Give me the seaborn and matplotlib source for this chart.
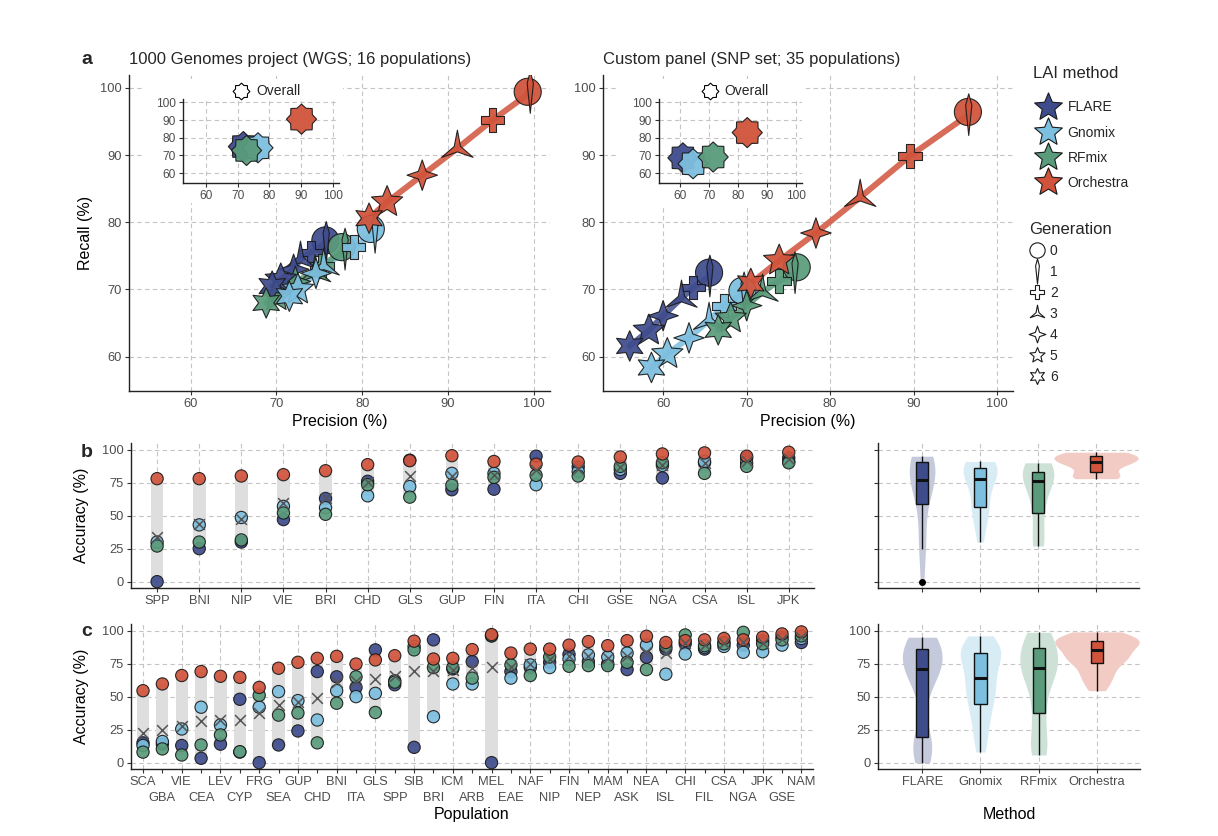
import numpy as np
import pandas as pd
import matplotlib
matplotlib.use("Agg")
import matplotlib.pyplot as plt
import matplotlib.colors as mcolors
import seaborn as sns
from matplotlib.path import Path
from matplotlib.lines import Line2D

# ---------------- data ----------------
methods = ["FLARE", "Gnomix", "RFmix", "Orchestra"]
colors = ["#3F4C8C", "#7DBFDF", "#5A9B7B", "#D1533B"]
generations = [0, 1, 2, 3, 4, 5, 6]

# Panel a, left: 1000 Genomes (precision, recall per generation)
wgs_flare_p = [75.7, 75.8, 74.0, 72.8, 72.0, 70.5, 69.5]
wgs_flare_r = [77.3, 77.0, 75.5, 74.5, 73.0, 71.5, 70.5]
wgs_gnomix_p = [81.0, 81.5, 79.0, 75.5, 74.6, 72.5, 71.5]
wgs_gnomix_r = [79.0, 78.5, 76.3, 73.5, 72.4, 70.0, 69.0]
wgs_rfmix_p = [77.6, 78.0, 75.3, 74.5, 72.2, 70.0, 68.8]
wgs_rfmix_r = [76.3, 76.0, 73.5, 72.5, 71.2, 69.0, 68.0]
wgs_orch_p = [99.3, 99.6, 95.2, 91.1, 87.0, 82.9, 80.8]
wgs_orch_r = [99.4, 99.3, 95.2, 91.0, 87.0, 83.0, 80.6]
wgs_overall_p = [71.8, 76.4, 72.8, 90.1]
wgs_overall_r = [75.0, 74.3, 72.8, 90.5]

# Panel a, right: custom panel
snp_flare_p = [65.5, 65.6, 63.6, 62.2, 60.0, 58.3, 56.0]
snp_flare_r = [72.5, 72.0, 70.3, 68.7, 66.1, 63.9, 61.6]
snp_gnomix_p = [69.5, 69.7, 67.3, 65.5, 63.1, 60.5, 58.6]
snp_gnomix_r = [69.8, 69.5, 67.6, 65.4, 62.8, 60.4, 58.4]
snp_rfmix_p = [76.0, 75.8, 73.9, 71.9, 70.0, 68.1, 66.6]
snp_rfmix_r = [73.3, 72.5, 71.3, 69.6, 67.6, 65.7, 64.0]
snp_orch_p = [96.5, 96.6, 89.6, 83.6, 78.3, 73.9, 70.5]
snp_orch_r = [96.4, 96.0, 89.9, 83.7, 78.4, 74.3, 70.9]
snp_overall_p = [61.0, 64.5, 71.4, 83.1]
snp_overall_r = [68.6, 65.3, 69.1, 82.9]

# Panel b: 16 populations
b_pops = ["SPP", "BNI", "NIP", "VIE", "BRI", "CHD", "GLS", "GUP",
          "FIN", "ITA", "CHI", "GSE", "NGA", "CSA", "ISL", "JPK"]
b_flare = [0, 25, 30, 47, 63, 76, 92, 69.6, 70, 95, 87, 82, 78.5, 90, 93.7, 93.7]
b_gnomix = [30, 43, 48.6, 57, 56, 65, 72, 82, 82, 73.4, 83.5, 85, 88, 91, 90, 91]
b_rfmix = [27, 30, 31.6, 52, 51, 73.4, 64, 73, 79, 80.5, 80, 87.3, 90, 82, 87.3, 90]
b_orch = [78, 78, 80, 81, 84, 88.6, 91.6, 95.4, 91, 89, 90.6, 94.4, 96.7, 97.5, 95, 98]

# Panel c: 35 populations
c_pops = ["SCA", "GBA", "VIE", "CEA", "LEV", "CYP", "FRG", "SEA", "GUP", "CHD",
          "BNI", "ITA", "GLS", "SPP", "SIB", "BRI", "ICM", "ARB", "MEL", "EAE",
          "NAF", "NIP", "FIN", "NEP", "MAM", "ASK", "NEA", "ISL", "CHI", "FIL",
          "CSA", "NGA", "JPK", "GSE", "NAM"]
c_flare = [15, 14, 13, 3.3, 14, 48, 0, 13.4, 24, 69, 65, 57, 85.4, 59, 11.6, 93, 71, 76.5,
           0, 69, 72, 76, 82, 76.5, 75, 70.5, 79.8, 86, 90, 86, 91, 89, 92.4, 95, 91]
c_gnomix = [13, 16, 25.5, 42, 28.5, 8, 42, 53.8, 47, 32.3, 54.5, 50, 52.5, 62, 88, 34.8,
            59.6, 59.6, 96, 64, 74, 72, 78.5, 81.6, 80, 83, 89, 67, 82.3, 87.4, 88, 83.6,
            84, 89, 94]
c_rfmix = [8, 10.4, 5.8, 13.4, 21, 8.3, 51, 36, 37.6, 15, 45, 65, 38, 61, 85.4, 72, 72,
           64, 96, 74, 66, 80, 73, 73.5, 73.5, 76, 70.5, 88, 96.7, 88.6, 90, 98.7, 90, 93, 96]
c_orch = [54.5, 59.6, 66, 69, 65.4, 64.6, 57, 71.5, 76, 79, 80.5, 74.7, 77.8, 81, 92, 78.5,
          79, 85.6, 97, 83, 86, 86, 89, 91.7, 88.6, 92.4, 95.7, 91, 92.4, 93, 94, 93, 95,
          97.5, 99]

# ---------------- styling ----------------
sns.set_theme(style="white")
plt.rcParams["font.family"] = ["Liberation Sans", "DejaVu Sans"]
pal = dict(zip(methods, colors))
light_pal = {m: mcolors.to_hex(0.3 * np.array(mcolors.to_rgb(c)) + 0.7) for m, c in pal.items()}
TICK_FS = 9.3
LAB_FS = 11.5
GRID = dict(color="#C4C4C4", linestyle=(0, (4, 3)), linewidth=0.8)


def star_path(n, inner, rot=90.0):
    k = np.arange(2 * n)
    ang = np.deg2rad(rot + k * 180.0 / n)
    rad = np.where(k % 2 == 0, 1.0, inner)
    v = np.column_stack([rad * np.cos(ang), rad * np.sin(ang)])
    v = np.vstack([v, v[:1]])
    return Path(v, closed=True)


spike = Path(np.array([[0, 1], [0.15, 0.45], [0, -1], [-0.15, 0.45], [0, 1]]), closed=True)
gen_markers = ["o", spike, "P", star_path(3, 0.2), star_path(4, 0.36),
               star_path(5, 0.45), star_path(6, 0.5)]
gen_sizes = [380, 900, 290, 680, 480, 560, 480]
gen_leg_ms = [11, 18, 10, 12, 12, 11.5, 11.5]
octagram = star_path(8, 0.78, rot=90)
five_star = star_path(5, 0.45)


def style_ax(ax, xgrid=False):
    for s in ["top", "right"]:
        ax.spines[s].set_visible(False)
    for s in ["left", "bottom"]:
        ax.spines[s].set_color("#222222")
        ax.spines[s].set_linewidth(1.0)
    ax.tick_params(axis="both", which="both", length=3, width=0.8, color="#333333",
                   labelsize=TICK_FS, labelcolor="#4D4D4D", direction="out",
                   bottom=True, left=True, pad=2)
    ax.yaxis.grid(True, which="major", **GRID)
    ax.xaxis.grid(xgrid, which="major", **GRID)
    ax.set_axisbelow(True)
    ax.set_facecolor("white")


W, H = 1218, 836


def rect(x0, y0, x1, y1):
    return [x0 / W, 1 - y1 / H, (x1 - x0) / W, (y1 - y0) / H]


fig = plt.figure(figsize=(12.18, 8.36), dpi=100)
fig.patch.set_facecolor("white")


# ---------------- panel a ----------------
def panel_a(ax, P, R, title, ylabel):
    rows = []
    for m, pp, rr in zip(methods, P, R):
        for g, p, r in zip(generations, pp, rr):
            rows.append(dict(method=m, generation=g, precision=p, recall=r))
    df = pd.DataFrame(rows)
    sns.lineplot(data=df, x="precision", y="recall", hue="method", hue_order=methods,
                 palette=pal, sort=False, estimator=None, linewidth=4.3, alpha=0.85,
                 legend=False, ax=ax, zorder=2)
    for g in generations:
        sub = df[df.generation == g]
        sns.scatterplot(data=sub, x="precision", y="recall", hue="method",
                        hue_order=methods, palette=pal, marker=gen_markers[g],
                        s=gen_sizes[g], edgecolor="#1A1A1A", linewidth=0.8, alpha=0.93,
                        legend=False, ax=ax, zorder=3)
    style_ax(ax, xgrid=True)
    ax.set_xlim(52.8, 101.9)
    ax.set_ylim(54.9, 101.9)
    ax.set_xticks([60, 70, 80, 90, 100])
    ax.set_yticks([60, 70, 80, 90, 100])
    ax.set_xlabel("Precision (%)", fontsize=LAB_FS, labelpad=3, color="black")
    ax.set_ylabel(ylabel, fontsize=LAB_FS, color="black")
    ax.set_title(title, loc="left", fontsize=12, pad=8)


def inset(ax, P, R, anchor_x):
    df = pd.DataFrame(dict(method=methods, precision=P, recall=R))
    sns.scatterplot(data=df, x="precision", y="recall", hue="method", hue_order=methods,
                    palette=pal, marker=octagram, s=470, edgecolor="#1A1A1A",
                    linewidth=0.8, alpha=0.95, legend=False, ax=ax, zorder=3)
    style_ax(ax, xgrid=True)
    ax.tick_params(labelsize=8.6)
    ax.set_xlim(52.8, 101.9)
    ax.set_ylim(54.4, 101.9)
    ax.set_xticks([60, 70, 80, 90, 100])
    ax.set_yticks([60, 70, 80, 90, 100])
    ax.set_xlabel("")
    ax.set_ylabel("")
    h = Line2D([], [], marker=octagram, linestyle="none", markerfacecolor="white",
               markeredgecolor="black", markersize=12, markeredgewidth=0.8)
    ax.legend([h], ["Overall"], loc="center left", bbox_to_anchor=(anchor_x, 1.09),
              frameon=False, fontsize=10, handlelength=1.0, handletextpad=0.55,
              borderpad=0, borderaxespad=0)


ax_aL = fig.add_axes(rect(129, 75, 550, 391))
ax_aR = fig.add_axes(rect(603, 75, 1013, 391))
panel_a(ax_aL, [wgs_flare_p, wgs_gnomix_p, wgs_rfmix_p, wgs_orch_p],
        [wgs_flare_r, wgs_gnomix_r, wgs_rfmix_r, wgs_orch_r],
        "1000 Genomes project (WGS; 16 populations)", "Recall (%)")
panel_a(ax_aR, [snp_flare_p, snp_gnomix_p, snp_rfmix_p, snp_orch_p],
        [snp_flare_r, snp_gnomix_r, snp_rfmix_r, snp_orch_r],
        "Custom panel (SNP set; 35 populations)", "")
ax_aL.yaxis.set_label_coords(-0.085, 0.5)

for r in [rect(142, 79, 343, 203), rect(619, 79, 803, 205)]:
    bg = fig.add_axes(r)
    bg.set_xticks([])
    bg.set_yticks([])
    for s in bg.spines.values():
        s.set_visible(False)
    bg.set_facecolor("white")

insL = fig.add_axes(rect(183, 99, 339, 183))
insR = fig.add_axes(rect(659, 99, 802, 183))
inset(insL, wgs_overall_p, wgs_overall_r, 0.33)
inset(insR, snp_overall_p, snp_overall_r, 0.31)

# ---------------- legends ----------------
m_handles = [Line2D([], [], marker=five_star, linestyle="none", markerfacecolor=c,
                    markeredgecolor="#1A1A1A", markersize=21, markeredgewidth=0.8)
             for c in colors]
leg1 = fig.legend(m_handles, methods, title="LAI method", loc="upper left",
                  bbox_to_anchor=(1033 / W, 1 - 66 / H), frameon=False, fontsize=10,
                  title_fontsize=12, handlelength=2.2, handletextpad=0.3,
                  labelspacing=0.8, borderpad=0, borderaxespad=0, alignment="left")
leg1._legend_box.sep = 14
g_handles = [Line2D([], [], marker=gen_markers[g], linestyle="none",
                    markerfacecolor="white", markeredgecolor="#1A1A1A",
                    markersize=gen_leg_ms[g], markeredgewidth=0.8) for g in generations]
leg2 = fig.legend(g_handles, [str(g) for g in generations], title="Generation",
                  loc="upper left", bbox_to_anchor=(1029 / W, 1 - 222 / H), frameon=False,
                  fontsize=10, title_fontsize=12, handlelength=1.1, handletextpad=0.4,
                  labelspacing=0.5, borderpad=0, borderaxespad=0, alignment="left")


# ---------------- panels b and c ----------------
def long_df(pops, vals):
    rows = []
    for m, v in zip(methods, vals):
        for i, (p, a) in enumerate(zip(pops, v)):
            rows.append(dict(pos=i, population=p, method=m, accuracy=a))
    return pd.DataFrame(rows)


def dot_panel(ax, pops, vals, bar_w, two_rows):
    df = long_df(pops, vals)
    st = df.groupby("pos")["accuracy"].agg(["min", "max", "mean"])
    ax.bar(st.index.values, (st["max"] - st["min"]).values, bottom=st["min"].values,
           width=bar_w, color="#DEDEDE", linewidth=0, zorder=1)
    sns.scatterplot(data=df, x="pos", y="accuracy", hue="method", hue_order=methods,
                    palette=pal, s=78, edgecolor="#1A1A1A", linewidth=0.8, alpha=0.92,
                    legend=False, ax=ax, zorder=3)
    sns.scatterplot(x=st.index.values, y=st["mean"].values, marker="x", color="#555555",
                    s=60, linewidth=1.1, legend=False, ax=ax, zorder=4)
    style_ax(ax)
    ax.set_xlim(-0.62, len(pops) - 1 + 0.6)
    ax.set_ylim(-4.8, 105)
    ax.set_yticks([0, 25, 50, 75, 100])
    if two_rows:
        idx = np.arange(len(pops))
        ax.set_xticks(idx[0::2], [pops[i] for i in idx[0::2]])
        ax.set_xticks(idx[1::2], [pops[i] for i in idx[1::2]], minor=True)
        ax.tick_params(axis="x", which="minor", pad=13.5, labelsize=TICK_FS,
                       labelcolor="#4D4D4D", length=3, width=0.8, color="#333333")
    else:
        ax.set_xticks(range(len(pops)), pops)
    ax.set_xlabel("")
    ax.set_ylabel("Accuracy (%)", fontsize=LAB_FS, color="black")
    ax.yaxis.set_label_coords(-0.062, 0.5)


def violin_panel(ax, pops, vals, bw, show_labels):
    df = long_df(pops, vals)
    sns.violinplot(data=df, x="method", y="accuracy", hue="method", order=methods,
                   hue_order=methods, palette=light_pal, saturation=1, inner=None,
                   cut=0, density_norm="area", common_norm=True, bw_method=bw,
                   width=1.45, linewidth=0, legend=False, ax=ax)
    sns.boxplot(data=df, x="method", y="accuracy", hue="method", order=methods,
                hue_order=methods, palette=pal, saturation=1, width=0.21,
                linecolor="#111111", linewidth=1.0, fliersize=4, showcaps=False,
                medianprops=dict(linewidth=2.2, color="#111111"),
                flierprops=dict(marker="o", markerfacecolor="black",
                                markeredgecolor="black"),
                legend=False, ax=ax)
    style_ax(ax)
    ax.set_xlim(-0.76, 3.74)
    ax.set_ylim(-4.8, 105)
    ax.set_yticks([0, 25, 50, 75, 100])
    ax.set_ylabel("")
    if show_labels:
        ax.set_xlabel("Method", fontsize=LAB_FS, color="black")
    else:
        ax.set_xlabel("")
        ax.set_xticklabels([])
        ax.set_yticklabels([])


ax_bL = fig.add_axes(rect(131, 443, 814, 588))
ax_bR = fig.add_axes(rect(878, 443, 1139, 588))
ax_cL = fig.add_axes(rect(131, 624, 813, 769))
ax_cR = fig.add_axes(rect(878, 624, 1140, 769))

dot_panel(ax_bL, b_pops, [b_flare, b_gnomix, b_rfmix, b_orch], 0.3, False)
dot_panel(ax_cL, c_pops, [c_flare, c_gnomix, c_rfmix, c_orch], 0.63, True)
violin_panel(ax_bR, b_pops, [b_flare, b_gnomix, b_rfmix, b_orch], 0.52, False)
violin_panel(ax_cR, c_pops, [c_flare, c_gnomix, c_rfmix, c_orch], 0.44, True)

ax_cL.set_xlabel("Population", fontsize=LAB_FS, color="black")
ax_cL.xaxis.set_label_coords(0.5, -0.26)
ax_cR.xaxis.set_label_coords(0.5, -0.26)

for lab, y in [("a", 60), ("b", 452), ("c", 632)]:
    fig.text(87 / W, 1 - y / H, lab, fontsize=14, fontweight="bold", ha="center",
             va="center")

fig.savefig("out.png", dpi=100, facecolor="white")
